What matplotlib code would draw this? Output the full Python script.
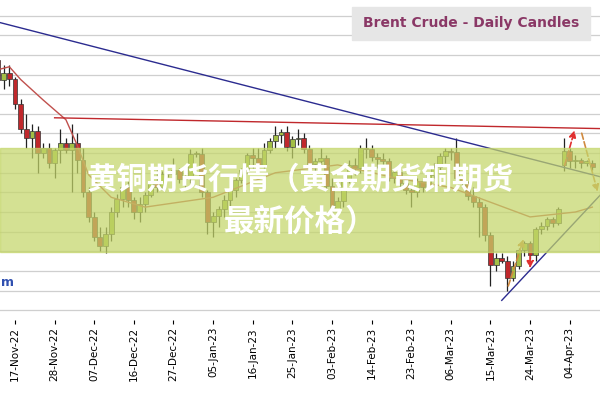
import matplotlib
matplotlib.use("Agg")
import matplotlib.pyplot as plt
import numpy as np
import pandas as pd

dates = ["2022-11-14","2022-11-15","2022-11-16","2022-11-17","2022-11-18","2022-11-21","2022-11-22","2022-11-23","2022-11-24","2022-11-25",
"2022-11-28","2022-11-29","2022-11-30","2022-12-01","2022-12-02","2022-12-05","2022-12-06","2022-12-07","2022-12-08","2022-12-09",
"2022-12-12","2022-12-13","2022-12-14","2022-12-15","2022-12-16","2022-12-19","2022-12-20","2022-12-21","2022-12-22","2022-12-23",
"2022-12-26","2022-12-27","2022-12-28","2022-12-29","2022-12-30","2023-01-02","2023-01-03","2023-01-04","2023-01-05","2023-01-06","2023-01-09","2023-01-10",
"2023-01-11","2023-01-12","2023-01-13","2023-01-16","2023-01-17","2023-01-18","2023-01-19","2023-01-20","2023-01-23","2023-01-24",
"2023-01-25","2023-01-26","2023-01-27","2023-01-30","2023-01-31","2023-02-01","2023-02-02","2023-02-03","2023-02-06","2023-02-07",
"2023-02-08","2023-02-09","2023-02-10","2023-02-13","2023-02-14","2023-02-15","2023-02-16","2023-02-17","2023-02-20","2023-02-21",
"2023-02-22","2023-02-23","2023-02-24","2023-02-27","2023-02-28","2023-03-01","2023-03-02","2023-03-03","2023-03-06","2023-03-07",
"2023-03-08","2023-03-09","2023-03-10","2023-03-13","2023-03-14","2023-03-15","2023-03-16","2023-03-17","2023-03-20","2023-03-21",
"2023-03-22","2023-03-23","2023-03-24","2023-03-27","2023-03-28","2023-03-29","2023-03-30","2023-03-31","2023-04-03","2023-04-04",
"2023-04-05","2023-04-06","2023-04-07","2023-04-10"]
opens = [95.5,93.5,94.2,93.6,91.0,88.5,87.5,88.3,86.0,86.5,
85.0,86.3,87.0,86.3,87.0,85.3,82.0,79.5,77.5,76.5,
77.8,80.0,81.3,82.6,81.2,80.0,80.8,81.7,83.2,82.5,
83.9,83.9,84.3,83.4,83.5,85.9,85.9,82.0,79.0,79.6,80.3,81.2,
82.2,83.3,84.3,85.8,85.5,84.8,86.3,87.2,87.8,88.2,
86.6,87.4,87.5,86.4,84.9,85.2,85.5,82.7,80.2,81.1,
83.3,84.8,84.5,86.5,86.4,85.6,85.4,85.2,83.5,84.1,
83.0,82.2,82.0,83.2,82.5,83.8,84.6,85.7,86.2,86.1,
83.5,83.0,81.6,81.0,80.5,77.7,74.6,75.3,75.0,73.3,
74.5,76.1,76.8,75.6,78.3,78.6,79.3,78.9,84.8,86.2,
85.2,85.3,85.0,85.0]
highs = [96.8,95.0,95.0,93.8,91.5,90.0,89.0,88.8,87.0,87.0,
86.5,88.5,87.5,89.0,88.0,86.5,82.5,80.0,78.5,78.5,
80.5,81.8,82.8,83.2,81.5,81.5,82.0,83.5,84.5,84.2,
84.2,85.5,84.5,84.0,86.4,86.2,86.5,82.2,80.0,80.6,81.7,82.5,
83.5,84.5,86.0,86.5,86.5,87.0,87.5,88.8,88.5,88.8,
87.7,88.5,88.0,86.8,85.5,86.5,85.8,83.5,81.5,83.5,
85.3,85.5,86.8,87.5,86.8,86.0,86.0,85.5,84.5,84.5,
83.2,82.5,83.5,83.5,84.0,85.0,86.0,86.5,86.5,87.5,
83.8,83.2,82.5,81.5,80.8,78.0,75.8,75.8,75.5,75.0,
76.3,77.0,77.0,78.5,79.0,79.5,79.5,80.5,87.5,86.5,
85.8,85.5,85.3,85.3]
lows = [93.0,92.5,92.8,90.5,88.0,86.5,85.5,84.0,85.5,84.5,
83.5,85.0,86.0,82.0,84.0,81.5,79.0,77.0,76.0,75.8,
77.0,79.5,80.5,80.5,79.3,79.0,80.0,81.5,82.0,82.2,
83.6,83.5,83.0,82.4,83.0,85.6,81.5,77.8,77.5,78.5,79.5,80.5,
81.5,83.0,84.0,84.5,84.2,84.5,86.0,86.5,87.0,86.2,
85.5,86.8,86.0,84.5,84.0,84.8,82.2,79.8,79.8,80.5,
83.0,83.8,84.0,85.5,85.2,84.5,84.8,83.2,83.0,82.5,
81.8,80.5,81.5,82.0,82.3,83.5,84.2,85.0,85.3,83.0,
82.5,81.2,80.5,77.5,77.0,72.5,74.0,74.8,72.0,73.0,
74.2,75.5,75.2,75.0,77.8,78.2,78.5,78.7,84.2,84.5,
84.5,84.5,84.7,84.3]
closes = [93.5,94.2,93.6,91.0,88.5,87.5,88.3,86.0,86.5,85.0,
86.3,87.0,86.3,87.0,85.3,82.0,79.5,77.5,76.5,77.8,
80.0,81.3,82.6,81.2,80.0,80.8,81.7,83.2,82.5,83.9,
83.9,84.3,83.4,83.5,85.9,85.9,82.0,79.0,79.6,80.3,81.2,82.2,
83.3,84.3,85.8,85.5,84.8,86.3,87.2,87.8,88.2,86.6,
87.4,87.5,86.4,84.9,85.2,85.5,82.7,80.2,81.1,83.3,
84.8,84.5,86.5,86.4,85.6,85.4,85.2,83.5,84.1,83.0,
82.2,82.0,83.2,82.5,83.8,84.6,85.7,86.2,86.1,83.5,
83.0,81.6,81.0,80.5,77.7,74.6,75.3,75.0,73.3,74.5,
76.1,76.8,75.6,78.3,78.6,79.3,78.9,80.3,86.2,85.2,
85.3,85.0,85.0,84.6]

ma_dates = ["2022-11-14","2022-11-16","2022-11-18","2022-11-24","2022-11-30","2022-12-02","2022-12-06","2022-12-12","2022-12-20",
            "2023-01-05","2023-01-20","2023-02-06","2023-02-20","2023-03-06","2023-03-15","2023-03-24","2023-04-05","2023-04-10"]
ma_vals = [94.5,94.8,93.5,91.4,89.4,86.8,83.8,81.5,80.5,81.5,84.0,84.8,83.5,82.5,81.0,79.5,80.0,80.5]

tick_dates = ["2022-11-17","2022-11-28","2022-12-07","2022-12-16","2022-12-27","2023-01-05","2023-01-16","2023-01-25",
              "2023-02-03","2023-02-14","2023-02-23","2023-03-06","2023-03-15","2023-03-24","2023-04-04"]

idx = {s: i for i, s in enumerate(dates)}
def X(s):
    return idx[s]

O, H, L, C = map(np.array, (opens, highs, lows, closes))
xs = np.arange(len(dates))

fig = plt.figure(figsize=(6, 4), dpi=100)
ax = fig.add_axes([0, 0.2, 1, 0.8])
x0 = X("2022-11-17") - 15 / 5.66
x1 = X("2022-11-17") + 585 / 5.66
ax.set_xlim(x0, x1)
ax.set_ylim(69, 101.6)
for g in np.arange(70, 102, 2):
    ax.axhline(g, color="#cfcfcf", lw=0.9, zorder=0)

up_c, dn_c = "#a3bf45", "#c0282c"
for xi, o, h, l, c in zip(xs, O, H, L, C):
    col = up_c if c >= o else dn_c
    ax.vlines(xi, l, h, color="#222222", lw=0.9, zorder=2)
    lo, hi = min(o, c), max(o, c)
    ax.bar(xi, max(hi - lo, 0.15), bottom=lo, width=0.85, color=col,
           edgecolor="#333333", lw=0.5, zorder=3)

md = [X(s) for s in ma_dates]
ax.plot(md, ma_vals, color="#c0504d", lw=1, zorder=4)

ax.plot([x0, x1], [99.3, 83.6], color="#2b2b8f", lw=1, zorder=4)
ax.plot([X("2022-11-28"), x1], [89.6, 88.5], color="#c0282c", lw=1, zorder=4)
ax.plot([X("2023-03-17"), x1], [71.0, 81.7], color="#2b2b8f", lw=1, zorder=4)

arr = dict(arrowstyle="-|>", color="#e03030", lw=1.2, ls="--", mutation_scale=10)
ax.annotate("", xy=(X("2023-03-23"), 77.5), xytext=(X("2023-03-20"), 72.2), arrowprops=dict(arr, color="#d08a40"), zorder=5)
ax.annotate("", xy=(X("2023-03-24"), 74.0), xytext=(X("2023-03-24"), 75.8), arrowprops=arr, zorder=5)
ax.annotate("", xy=(X("2023-04-05"), 88.6), xytext=(X("2023-04-03"), 84.5), arrowprops=arr, zorder=5)
ax.annotate("", xy=(x1 - 0.3, 81.8), xytext=(X("2023-04-06"), 88.3), arrowprops=dict(arr, color="#d08a40"), zorder=5)

ax.set_xticks([X(t) for t in tick_dates])
ax.set_xticklabels([pd.Timestamp(t).strftime("%d-%b-%y") for t in tick_dates], rotation=90, fontsize=7.5)
ax.tick_params(axis="x", length=3, pad=2)
ax.set_yticks([])
for s in ax.spines.values():
    s.set_visible(False)

ax.text(0.001, 0.116, "m", transform=ax.transAxes, color="#3050b0", fontsize=9,
        fontweight="bold", va="center", ha="left", zorder=6)

fig.patches.append(plt.Rectangle((0.587, 0.9), 0.397, 0.083, transform=fig.transFigure,
                                 color="#e6e6e6", zorder=5))
fig.text(0.785, 0.942, "Brent Crude - Daily Candles", color="#8a3866", fontsize=10,
         fontweight="bold", ha="center", va="center", zorder=6)

fig.patches.append(plt.Rectangle((0, 0.37), 1, 0.26, transform=fig.transFigure,
                                 color="#c4d66a", alpha=0.72, zorder=7))
cjk = ["Noto Sans CJK SC", "DejaVu Sans"]
fig.text(0.5, 0.55, "黄铜期货行情（黄金期货铜期货", color="white", fontsize=22, fontweight="bold",
         ha="center", va="center", family=cjk, zorder=8)
fig.text(0.5, 0.445, "最新价格）", color="white", fontsize=22, fontweight="bold",
         ha="center", va="center", family=cjk, zorder=8)

fig.savefig("out.png", dpi=100)
